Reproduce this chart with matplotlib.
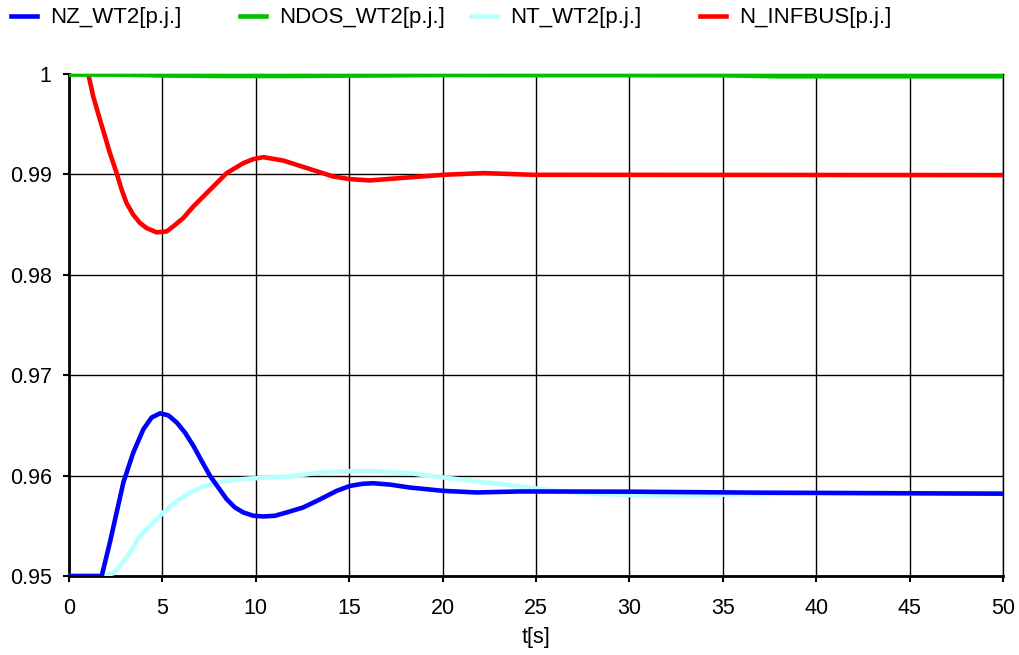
import matplotlib
matplotlib.use("Agg")
import matplotlib.pyplot as plt

# time [s] and per-unit values
t_nz = [0, 1.75, 2.19, 2.55, 2.91, 3.44, 3.98, 4.42, 4.87, 5.32, 5.77, 6.21, 6.66, 7.1, 7.55,
        7.99, 8.44, 8.88, 9.33, 9.87, 10.4, 11.03, 11.65, 12.54, 13.4, 14.33, 15.04, 15.7,
        16.29, 17.2, 18.25, 20.04, 21.83, 24.14, 30, 37, 50]
nz_wt2 = [0.95, 0.95, 0.95335, 0.95633, 0.95931, 0.96229, 0.96461, 0.96578, 0.9662, 0.966,
          0.96528, 0.96428, 0.96296, 0.96146, 0.95997, 0.95882, 0.95765, 0.95683, 0.95633,
          0.956, 0.95593, 0.956, 0.95633, 0.95683, 0.9576, 0.95848, 0.95897, 0.95918,
          0.95924, 0.9591, 0.95881, 0.95848, 0.95832, 0.95842, 0.9584, 0.9583, 0.9582]

t_ndos = [0, 3, 5, 8, 12, 16, 20, 25, 30, 35, 38, 50]
ndos_wt2 = [0.99995, 0.99993, 0.99985, 0.9998, 0.9998, 0.99985, 0.9999, 0.99988, 0.99988,
            0.99987, 0.99977, 0.99977]

t_nt = [0, 1.84, 2.37, 2.73, 3.27, 3.8, 4.42, 5.05, 5.77, 6.48, 7.19, 7.9, 8.8, 9.69, 10.76,
        11.83, 13.44, 14.8, 16.11, 18.25, 20.04, 22.36, 24.14, 26, 28.4, 32, 35.5, 40, 50]
nt_wt2 = [0.95, 0.95, 0.95027, 0.95102, 0.95236, 0.95401, 0.95517, 0.95633, 0.95748, 0.95832,
          0.95892, 0.95931, 0.95958, 0.95971, 0.95981, 0.95991, 0.96031, 0.96043, 0.96047,
          0.96024, 0.95981, 0.95931, 0.95892, 0.9585, 0.95815, 0.95798, 0.95812, 0.95825,
          0.9582]

t_inf = [0, 1.03, 1.3, 1.66, 1.93, 2.19, 2.55, 2.82, 3.08, 3.44, 3.8, 4.15, 4.69, 5.23, 5.58,
         6.12, 6.66, 7.19, 7.73, 8.44, 8.98, 9.33, 9.87, 10.4, 11.47, 12.9, 14.15, 15.04,
         16.11, 17.72, 20.04, 22.18, 24.86, 50]
n_infbus = [1.0, 1.0, 0.99774, 0.99543, 0.99377, 0.99212, 0.99013, 0.98847, 0.98715, 0.98598,
            0.98516, 0.98466, 0.98423, 0.98432, 0.98482, 0.98566, 0.98681, 0.9878, 0.9888,
            0.99013, 0.99073, 0.99112, 0.99152, 0.99172, 0.99138, 0.99053, 0.98979, 0.98953,
            0.9894, 0.98963, 0.98996, 0.99013, 0.98996, 0.98993]

x_ticks = list(range(0, 51, 5))
y_ticks = [0.95, 0.96, 0.97, 0.98, 0.99, 1.0]
y_labels = ["0.95", "0.96", "0.97", "0.98", "0.99", "1"]

plt.rcParams["font.family"] = ["Liberation Sans", "DejaVu Sans"]

fig = plt.figure(figsize=(10.2, 6.55), dpi=100)
ax = fig.add_axes([69 / 1020, 1 - 576 / 655, (1003 - 69) / 1020, (576 - 74) / 655])

lw = 3.3
l_nz, = ax.plot(t_nz, nz_wt2, color="#0000ff", lw=lw, zorder=4, label="NZ_WT2[p.j.]")
l_ndos, = ax.plot(t_ndos, ndos_wt2, color="#00c000", lw=lw, zorder=5, label="NDOS_WT2[p.j.]")
l_nt, = ax.plot(t_nt, nt_wt2, color="#b8ffff", lw=lw, zorder=3, label="NT_WT2[p.j.]")
l_inf, = ax.plot(t_inf, n_infbus, color="#ff0000", lw=lw, zorder=4, label="N_INFBUS[p.j.]")
for ln in (l_nz, l_ndos, l_nt, l_inf):
    ln.set_solid_joinstyle("round")

ax.set_xlim(0, 50)
ax.set_ylim(0.95, 1.0)
ax.set_xticks(x_ticks)
ax.set_yticks(y_ticks)
ax.set_yticklabels(y_labels)
ax.grid(True, color="black", lw=1)
ax.tick_params(direction="out", length=4.5, width=1.5, labelsize=15.5, colors="black")
ax.tick_params(axis="x", pad=11)
ax.tick_params(axis="y", pad=8)
for side in ("left", "bottom"):
    ax.spines[side].set_linewidth(2)
for side in ("top", "right"):
    ax.spines[side].set_linewidth(1)
ax.set_xlabel("t[s]", fontsize=15.5, labelpad=6)

# legend entries spread across the top, one legend per series
legend_x = [11 / 1020, 240 / 1020, 471 / 1020, 700 / 1020]
for handle, lx in zip([l_nz, l_ndos, l_nt, l_inf], legend_x):
    fig.legend(handles=[handle], loc="center left", bbox_to_anchor=(lx, 1 - 18 / 655),
               frameon=False, fontsize=16, handlelength=1.17, handletextpad=0.6,
               borderpad=0, borderaxespad=0)

fig.savefig("out.png", dpi=100)
